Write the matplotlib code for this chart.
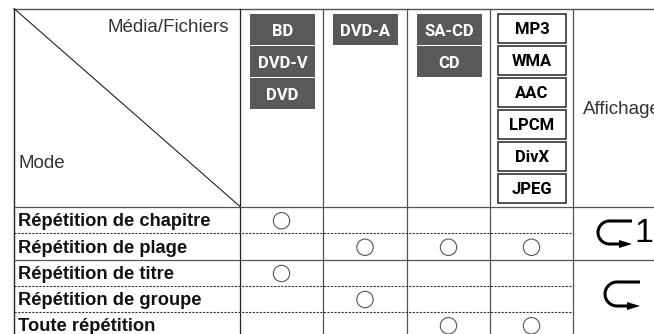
#!/usr/bin/env python3
from __future__ import annotations

import matplotlib

matplotlib.use("Agg")
import matplotlib.pyplot as plt
from matplotlib.patches import Circle, PathPatch, Rectangle
from matplotlib.path import Path

DISC_COLS = [["BD", "DVD-V", "DVD"], ["DVD-A"], ["SA-CD", "CD"]]
FILE_LABELS = ["MP3", "WMA", "AAC", "LPCM", "DivX", "JPEG"]
MODES = [
    "Répétition de chapitre",
    "Répétition de plage",
    "Répétition de titre",
    "Répétition de groupe",
    "Toute répétition",
]
# columns: BD/DVD, DVD-A, SA-CD/CD, files
SUPPORT = [
    [1, 0, 0, 0],
    [0, 1, 1, 1],
    [1, 0, 0, 0],
    [0, 1, 0, 0],
    [0, 0, 1, 1],
]
# pixel layout of the table
COL_X = [14, 240, 323, 407, 490, 573, 654]
ROW_Y = [206.5, 233, 259.5, 285.5, 311.5, 338]
ROW_SOLID = [True, False, True, False, False, True]

GREY = "#58595b"
NARROW = ["Liberation Sans Narrow", "Roboto", "Liberation Sans"]


def repeat_icon(ax, left, right, top, bottom):
    r = (bottom - top) / 2
    k = 0.55 * r
    mid = (top + bottom) / 2
    x0 = left + r
    verts = [
        (right, top), (x0, top),
        (x0 - k, top), (left, mid - k), (left, mid),
        (left, mid + k), (x0 - k, bottom), (x0, bottom),
        (right - 6, bottom),
    ]
    codes = [Path.MOVETO, Path.LINETO, Path.CURVE4, Path.CURVE4, Path.CURVE4,
             Path.CURVE4, Path.CURVE4, Path.CURVE4, Path.LINETO]
    ax.add_patch(PathPatch(Path(verts, codes), fc="none", ec="black", lw=2.2, capstyle="butt"))
    ax.add_patch(PathPatch(Path([(right, bottom), (right - 13, bottom - 4), (right - 13, bottom + 4), (right, bottom)]),
                           fc="black", ec="none"))


def main() -> int:
    plt.rcParams["font.family"] = ["Liberation Sans", "DejaVu Sans"]
    fig = plt.figure(figsize=(6.54, 3.34), dpi=100)
    ax = fig.add_axes([0, 0, 1, 1])
    ax.set_xlim(0, 654)
    ax.set_ylim(334, 0)
    ax.axis("off")

    # frame and grid
    ax.plot([14, 654], [8.5, 8.5], color="#555555", lw=1.0)
    ax.plot([14, 14], [8.5, 334], color="#222222", lw=1.0)
    ax.plot([240, 240], [8.5, 334], color="#222222", lw=0.9)
    for x in COL_X[2:6]:
        ax.plot([x, x], [8.5, 334], color="#555555", lw=0.9)
    ax.plot([14, 240], [8.5, 206.5], color="#222222", lw=0.8)
    for y, solid in zip(ROW_Y, ROW_SOLID):
        if solid:
            ax.plot([14, 654], [y, y], color="#555555", lw=0.9)
        else:
            ax.plot([14, 573], [y, y], color="#333333", lw=0.8, dashes=(2, 1.2))

    ax.text(229, 27, "Média/Fichiers", ha="right", va="center", fontsize=13.5, color="#333333")
    ax.text(18, 163, "Mode", ha="left", va="center", fontsize=13.5, color="#333333")
    ax.text(583, 109, "Affichage", ha="left", va="center", fontsize=13.5, color="#333333", clip_on=True)

    # disc chips
    for c, labels in enumerate(DISC_COLS):
        left = COL_X[c + 1] + 10
        for i, label in enumerate(labels):
            top = 14 + i * 32
            ax.add_patch(Rectangle((left, top), 65, 31, fc=GREY, ec="none"))
            ax.text(left + 32.5, top + 17, label, ha="center", va="center", color="white",
                    fontsize=12, fontweight="bold", family=NARROW)

    # file type boxes
    for i, label in enumerate(FILE_LABELS):
        top = 13.5 + i * 32
        ax.add_patch(Rectangle((498, top), 68, 29, fc="white", ec="#222222", lw=1.1))
        ax.text(532, top + 15.5, label, ha="center", va="center", color="black",
                fontsize=12, fontweight="bold", family=NARROW)

    # mode rows and marks
    for r, mode in enumerate(MODES):
        cy = (ROW_Y[r] + ROW_Y[r + 1]) / 2
        ax.text(18, cy + 2, mode, ha="left", va="center", fontsize=13.2, fontweight="bold", color="#111111")
        for c, on in enumerate(SUPPORT[r]):
            if on:
                cx = (COL_X[c + 1] + COL_X[c + 2]) / 2
                ax.add_patch(Circle((cx, cy + 1), 8.2, fc="white", ec="#555555", lw=0.8, zorder=3))

    repeat_icon(ax, 598, 632, 221, 244)
    ax.text(634, 233, "1", ha="left", va="center", fontsize=24.5, color="black")
    repeat_icon(ax, 605, 640, 282, 306)

    fig.savefig("out.png", dpi=100, facecolor="white")
    plt.close(fig)
    return 0


if __name__ == "__main__":
    raise SystemExit(main())
